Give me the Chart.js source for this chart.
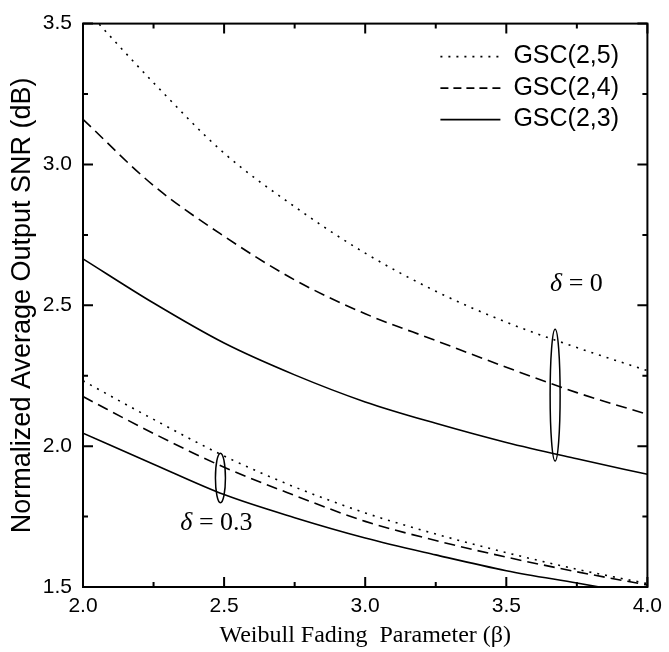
<!DOCTYPE html>
<html>
<head>
<meta charset="utf-8">
<title>SNR vs Weibull</title>
<script src="https://cdn.jsdelivr.net/npm/chart.js@4.4.1/dist/chart.umd.min.js"></script>
<style>
  html, body { margin: 0; padding: 0; background: #fff; }
</style>
</head>
<body>
<canvas id="grafico" width="669" height="652"></canvas>
<script>
// valori (beta sull'asse x)
var beta = [2.0, 2.25, 2.5, 2.75, 3.0, 3.25, 3.5, 3.75, 4.0];

// delta = 0
var gsc25_d0 = [3.56, 3.29, 3.04, 2.85, 2.685, 2.55, 2.44, 2.35, 2.268];
var gsc24_d0 = [3.16, 2.925, 2.745, 2.59, 2.47, 2.375, 2.28, 2.19, 2.113];
var gsc23_d0 = [2.665, 2.508, 2.366, 2.253, 2.157, 2.081, 2.013, 1.955, 1.90];

// delta = 0.3
var gsc25_d03 = [2.232, 2.095, 1.965, 1.855, 1.763, 1.688, 1.622, 1.563, 1.512];
var gsc24_d03 = [2.176, 2.045, 1.925, 1.825, 1.733, 1.665, 1.606, 1.554, 1.507];
var gsc23_d03 = [2.046, 1.936, 1.828, 1.746, 1.674, 1.614, 1.558, 1.514, 1.47];

var etichette = ['GSC(2,5)', 'GSC(2,4)', 'GSC(2,3)'];
var tratteggi = [[2, 6], [11, 6], []];

// ellissi e scritte delta (coordinate nei valori dei dati)
var ellisseX = [3.673, 2.487];
var ellisseYalto = [2.415, 1.975];
var ellisseYbasso = [1.947, 1.799];
var scrittaDelta = ['0', '0.3'];
var scrittaX = [3.655, 2.345];
var scrittaY = [2.574, 1.725];

function punti(valori) {
    return beta.map(function (b, i) { return { x: b, y: valori[i] }; });
}

var serie = [gsc25_d0, gsc24_d0, gsc23_d0, gsc25_d03, gsc24_d03, gsc23_d03];
var datasets = serie.map(function (v, i) {
    return {
        label: etichette[i % 3],
        data: punti(v),
        borderColor: '#000',
        borderWidth: 1.6,
        borderDash: tratteggi[i % 3],
        pointRadius: 0,
        fill: false,
        cubicInterpolationMode: 'monotone'
    };
});

function etichettaTick(value) {
    var doppio = value * 2;
    if (Math.abs(doppio - Math.round(doppio)) < 1e-6) return value.toFixed(1);
    return '';
}

// cornice, tacche interne, legenda, ellissi
var decorazioni = {
    id: 'decorazioni',
    afterDatasetsDraw: function (chart) {
        var ctx = chart.ctx;
        var a = chart.chartArea;
        var sx = chart.scales.x, sy = chart.scales.y;
        ctx.save();
        ctx.strokeStyle = '#000';
        ctx.lineWidth = 2;
        ctx.strokeRect(a.left, a.top, a.right - a.left, a.bottom - a.top);

        sx.ticks.forEach(function (t) {
            var px = sx.getPixelForValue(t.value);
            var len = etichettaTick(t.value) ? 10 : 5;
            ctx.beginPath();
            ctx.moveTo(px, a.bottom); ctx.lineTo(px, a.bottom - len);
            ctx.moveTo(px, a.top); ctx.lineTo(px, a.top + len);
            ctx.stroke();
        });
        sy.ticks.forEach(function (t) {
            var py = sy.getPixelForValue(t.value);
            var len = etichettaTick(t.value) ? 10 : 5;
            ctx.beginPath();
            ctx.moveTo(a.left, py); ctx.lineTo(a.left + len, py);
            ctx.moveTo(a.right, py); ctx.lineTo(a.right - len, py);
            ctx.stroke();
        });

        // ellissi
        ctx.lineWidth = 1.5;
        for (var i = 0; i < ellisseX.length; i++) {
            var cx = sx.getPixelForValue(ellisseX[i]);
            var y1 = sy.getPixelForValue(ellisseYalto[i]);
            var y2 = sy.getPixelForValue(ellisseYbasso[i]);
            ctx.beginPath();
            ctx.ellipse(cx, (y1 + y2) / 2, 5, (y2 - y1) / 2, 0, 0, Math.PI * 2);
            ctx.stroke();

            var tx = sx.getPixelForValue(scrittaX[i]);
            var ty = sy.getPixelForValue(scrittaY[i]);
            ctx.fillStyle = '#000';
            ctx.textBaseline = 'middle';
            ctx.textAlign = 'left';
            ctx.font = 'italic 26px "Liberation Serif", "Times New Roman", serif';
            ctx.fillText('\u03B4', tx, ty);
            var w = ctx.measureText('\u03B4').width;
            ctx.font = '26px "Liberation Serif", "Times New Roman", serif';
            ctx.fillText(' = ' + scrittaDelta[i], tx + w, ty);
        }

        // legenda
        ctx.font = '25px "Liberation Sans", Arial, sans-serif';
        ctx.textBaseline = 'middle';
        for (var k = 0; k < 3; k++) {
            var ly = a.top + 33 + k * 31.5;
            ctx.beginPath();
            ctx.lineWidth = 1.6;
            ctx.setLineDash(k === 1 ? [8, 5] : tratteggi[k]);
            ctx.moveTo(a.right - 207, ly);
            ctx.lineTo(a.right - 147, ly);
            ctx.stroke();
            ctx.setLineDash([]);
            ctx.fillText(etichette[k], a.right - 134, ly);
        }
        ctx.restore();
    }
};

var ctx = document.getElementById('grafico').getContext('2d');
var grafico = new Chart(ctx, {
    type: 'line',
    data: { datasets: datasets },
    options: {
        responsive: false,
        animation: false,
        devicePixelRatio: 1,
        layout: { padding: { top: 19, right: 17, left: 0, bottom: 0 } },
        plugins: {
            legend: { display: false },
            tooltip: { enabled: false }
        },
        scales: {
            x: {
                type: 'linear',
                min: 2.0,
                max: 4.0,
                grid: { display: false, drawTicks: false },
                border: { display: false },
                ticks: {
                    stepSize: 0.25,
                    autoSkip: false,
                    maxRotation: 0,
                    padding: 7,
                    color: '#000',
                    font: { family: '"Liberation Sans", Arial, sans-serif', size: 21 },
                    callback: etichettaTick
                },
                title: {
                    display: true,
                    text: 'Weibull Fading  Parameter (\u03B2)',
                    color: '#000',
                    padding: { top: 0, bottom: 2 },
                    font: { family: '"Liberation Serif", "Times New Roman", serif', size: 24 }
                },
                afterFit: function (s) { s.height = 65; }
            },
            y: {
                type: 'linear',
                min: 1.5,
                max: 3.5,
                grid: { display: false, drawTicks: false },
                border: { display: false },
                ticks: {
                    stepSize: 0.25,
                    autoSkip: false,
                    padding: 11,
                    color: '#000',
                    font: { family: '"Liberation Sans", Arial, sans-serif', size: 21 },
                    callback: etichettaTick
                },
                title: {
                    display: true,
                    text: 'Normalized Average Output SNR (dB)',
                    color: '#000',
                    padding: { top: 6, bottom: 0 },
                    font: { family: '"Liberation Sans", Arial, sans-serif', size: 27 }
                },
                afterFit: function (s) { s.width = 83; }
            }
        }
    },
    plugins: [decorazioni]
});
</script>
</body>
</html>
